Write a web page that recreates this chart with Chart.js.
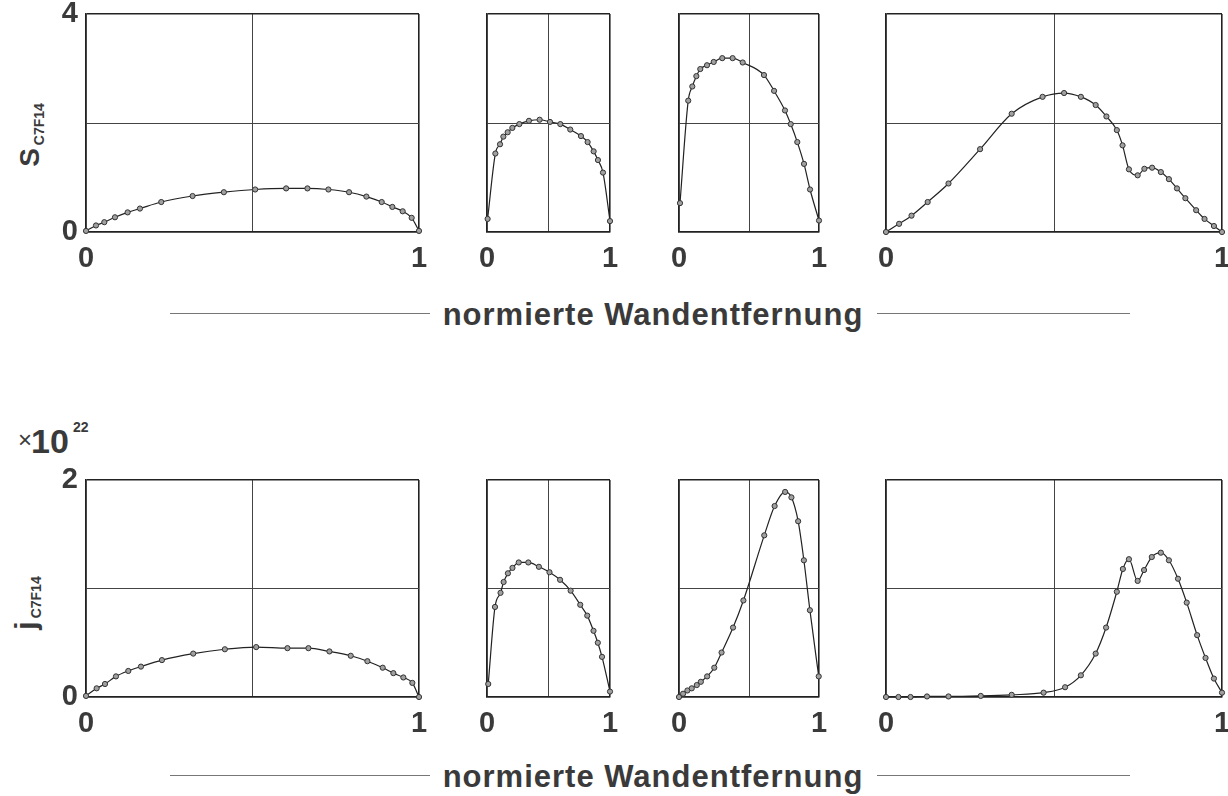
<!DOCTYPE html>
<html>
<head>
<meta charset="utf-8">
<script src="https://cdn.jsdelivr.net/npm/chart.js@4.4.0/dist/chart.umd.min.js"></script>
<style>
  body { margin: 0; background: #fff; width: 1228px; height: 796px; position: relative; overflow: hidden;
         font-family: "Liberation Sans", Arial, sans-serif; font-weight: bold; color: #3a3a3a; }
  canvas { position: absolute; }
  .lbl { position: absolute; white-space: nowrap; line-height: 1; }
  .rule { position: absolute; height: 0; border-top: 1.5px solid #777; }
  .title { font-size: 31px; letter-spacing: 1px; transform: translate(-50%, -50%); }
  .ytitle { transform: translate(-50%, -50%) rotate(-90deg); }
</style>
</head>
<body>

<div class="lbl ytitle" style="left:30px;top:135px"><span style="font-size:28px">S</span><span style="font-size:14px;position:relative;top:5px;margin-left:3px">C7F14</span></div>
<div class="lbl ytitle" style="left:26px;top:603px"><span style="font-size:30px">j</span><span style="font-size:14px;position:relative;top:5px;margin-left:3px">C7F14</span></div>

<div class="lbl" style="left:18px;top:428px;font-size:24px;font-weight:normal">×</div>
<div class="lbl" style="left:31px;top:424px;font-size:34px">10</div>
<div class="lbl" style="left:73px;top:420px;font-size:14px">22</div>

<div class="rule" style="left:170px;top:313px;width:260px"></div>
<div class="lbl title" style="left:653px;top:314px">normierte Wandentfernung</div>
<div class="rule" style="left:877px;top:313px;width:253px"></div>

<div class="rule" style="left:170px;top:775px;width:260px"></div>
<div class="lbl title" style="left:653px;top:776px">normierte Wandentfernung</div>
<div class="rule" style="left:877px;top:775px;width:253px"></div>

<script>
// tick labels
const xTicks = [0, 1]
const sTicks = [0, 4]
const jTicks = [0, 2]

// S_C7F14, upper row
const sX1 = [0, 0.03, 0.055, 0.087, 0.125, 0.162, 0.226, 0.32, 0.414, 0.508, 0.601, 0.665, 0.728, 0.79, 0.842, 0.888, 0.92, 0.951, 0.978, 1]
const sY1 = [0.02, 0.12, 0.18, 0.27, 0.36, 0.43, 0.55, 0.66, 0.73, 0.78, 0.8, 0.8, 0.78, 0.73, 0.65, 0.55, 0.46, 0.38, 0.26, 0.02]

const sX2 = [0.005, 0.068, 0.106, 0.133, 0.168, 0.206, 0.263, 0.341, 0.428, 0.512, 0.596, 0.677, 0.764, 0.818, 0.867, 0.902, 0.943, 1]
const sY2 = [0.24, 1.44, 1.61, 1.75, 1.83, 1.91, 1.98, 2.04, 2.06, 2.02, 1.98, 1.88, 1.76, 1.65, 1.48, 1.32, 1.09, 0.2]

const sX3 = [0.007, 0.066, 0.095, 0.124, 0.152, 0.2, 0.248, 0.309, 0.383, 0.455, 0.607, 0.679, 0.757, 0.798, 0.845, 0.893, 0.936, 1]
const sY3 = [0.53, 2.41, 2.67, 2.86, 2.99, 3.06, 3.12, 3.19, 3.19, 3.11, 2.88, 2.59, 2.23, 1.98, 1.65, 1.25, 0.78, 0.21]

const sX4 = [0, 0.039, 0.076, 0.124, 0.186, 0.28, 0.374, 0.466, 0.53, 0.58, 0.624, 0.656, 0.687, 0.704, 0.723, 0.749, 0.769, 0.792, 0.818, 0.842, 0.866, 0.891, 0.923, 0.948, 0.976, 1]
const sY4 = [0, 0.15, 0.3, 0.55, 0.89, 1.52, 2.17, 2.48, 2.55, 2.48, 2.33, 2.12, 1.87, 1.59, 1.15, 1.04, 1.16, 1.18, 1.1, 0.97, 0.8, 0.62, 0.4, 0.24, 0.11, 0]

// j_C7F14 (x 10^22), lower row
const jX1 = [0, 0.032, 0.057, 0.09, 0.127, 0.165, 0.228, 0.322, 0.417, 0.511, 0.605, 0.668, 0.731, 0.795, 0.845, 0.891, 0.923, 0.953, 0.98, 1]
const jY1 = [0.01, 0.08, 0.12, 0.19, 0.24, 0.28, 0.34, 0.4, 0.44, 0.46, 0.45, 0.45, 0.42, 0.38, 0.33, 0.27, 0.22, 0.18, 0.13, 0]

const jX2 = [0.01, 0.065, 0.11, 0.135, 0.17, 0.207, 0.258, 0.336, 0.422, 0.508, 0.594, 0.68, 0.758, 0.815, 0.866, 0.901, 0.935, 1]
const jY2 = [0.12, 0.83, 0.96, 1.06, 1.14, 1.19, 1.24, 1.24, 1.2, 1.15, 1.08, 0.98, 0.85, 0.75, 0.61, 0.5, 0.37, 0.05]

const jX3 = [0, 0.029, 0.06, 0.091, 0.127, 0.156, 0.201, 0.252, 0.304, 0.386, 0.46, 0.609, 0.683, 0.758, 0.803, 0.851, 0.892, 0.935, 0.998]
const jY3 = [0, 0.03, 0.06, 0.08, 0.11, 0.14, 0.19, 0.27, 0.41, 0.64, 0.89, 1.49, 1.76, 1.89, 1.84, 1.62, 1.26, 0.8, 0.19]

const jX4 = [0, 0.037, 0.073, 0.122, 0.186, 0.282, 0.374, 0.469, 0.533, 0.58, 0.624, 0.655, 0.687, 0.705, 0.723, 0.749, 0.768, 0.791, 0.818, 0.842, 0.869, 0.895, 0.926, 0.951, 0.976, 1]
const jY4 = [0, 0, 0, 0.005, 0.005, 0.01, 0.02, 0.04, 0.09, 0.2, 0.4, 0.64, 0.97, 1.18, 1.27, 1.07, 1.17, 1.29, 1.33, 1.26, 1.09, 0.87, 0.57, 0.36, 0.17, 0.04]

// plot-area layout (pixels)
const cols = [{ left: 86, width: 333 }, { left: 487, width: 123 }, { left: 679, width: 140 }, { left: 886, width: 336 }]
const rows = [{ top: 14, height: 218 }, { top: 480, height: 217 }]

const tickFont = { family: '"Liberation Sans", Arial, sans-serif', size: 29, weight: 'bold' }
const inkColor = '#3a3a3a'

function edgeOrMid(ctx, max, edge, mid) {
    const v = ctx.tick.value
    return (v === 0 || v === max) ? edge : mid
}

function makePanel(row, col, xs, ys, yTicks) {
    // generous margins so label overhang never shrinks the plot area
    const padL = col === 0 ? 60 : 26
    const padT = 26, padR = 26, padB = 48
    const r = rows[row], c = cols[col]
    const yMax = yTicks[yTicks.length - 1]

    const canvas = document.createElement('canvas')
    canvas.width = c.width + padL + padR
    canvas.height = r.height + padT + padB
    canvas.style.left = (c.left - padL) + 'px'
    canvas.style.top = (r.top - padT) + 'px'
    document.body.appendChild(canvas)

    new Chart(canvas.getContext('2d'), {
        type: 'scatter',
        data: {
            datasets: [{
                data: xs.map((x, i) => ({ x: x, y: ys[i] })),
                showLine: true,
                borderColor: '#222',
                borderWidth: 1.2,
                cubicInterpolationMode: 'monotone',
                pointRadius: 2.6,
                pointBackgroundColor: '#a0a0a0',
                pointBorderColor: '#333',
                pointBorderWidth: 1,
                clip: false
            }]
        },
        options: {
            responsive: false,
            animation: false,
            layout: { padding: { top: padT, right: padR, left: 0, bottom: 0 } },
            plugins: { legend: { display: false }, tooltip: { enabled: false } },
            scales: {
                x: {
                    type: 'linear', min: 0, max: 1,
                    afterBuildTicks: s => { s.ticks = [0, 0.5, 1].map(v => ({ value: v })) },
                    afterFit: s => { s.height = padB },
                    ticks: {
                        callback: v => xTicks.includes(v) ? String(v) : '',
                        font: tickFont, color: inkColor, padding: 10,
                        maxRotation: 0, autoSkip: false
                    },
                    grid: {
                        drawTicks: false,
                        color: ctx => edgeOrMid(ctx, 1, '#222', '#444'),
                        lineWidth: ctx => edgeOrMid(ctx, 1, 1.6, 1)
                    },
                    border: { display: true, color: '#222', width: 1.6 }
                },
                y: {
                    type: 'linear', min: 0, max: yMax,
                    afterBuildTicks: s => { s.ticks = [0, yMax / 2, yMax].map(v => ({ value: v })) },
                    afterFit: s => { s.width = padL },
                    ticks: {
                        display: col === 0,
                        callback: v => yTicks.includes(v) ? String(v) : '',
                        font: tickFont, color: inkColor, padding: 8,
                        autoSkip: false
                    },
                    grid: {
                        drawTicks: false,
                        color: ctx => edgeOrMid(ctx, yMax, '#222', '#444'),
                        lineWidth: ctx => edgeOrMid(ctx, yMax, 1.6, 1)
                    },
                    border: { display: true, color: '#222', width: 1.6 }
                }
            }
        }
    })
}

makePanel(0, 0, sX1, sY1, sTicks)
makePanel(0, 1, sX2, sY2, sTicks)
makePanel(0, 2, sX3, sY3, sTicks)
makePanel(0, 3, sX4, sY4, sTicks)

makePanel(1, 0, jX1, jY1, jTicks)
makePanel(1, 1, jX2, jY2, jTicks)
makePanel(1, 2, jX3, jY3, jTicks)
makePanel(1, 3, jX4, jY4, jTicks)
</script>
</body>
</html>
